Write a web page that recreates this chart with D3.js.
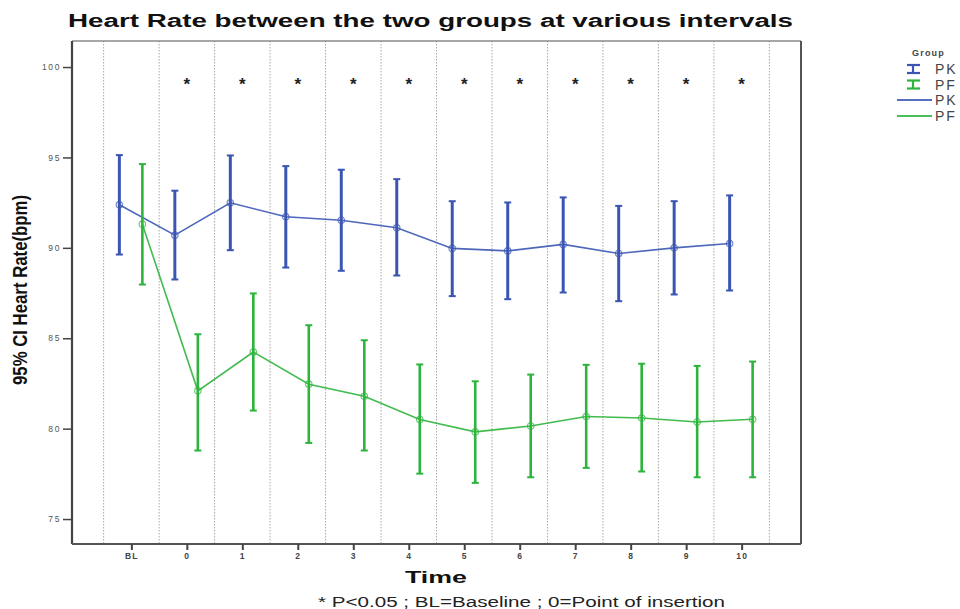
<!DOCTYPE html>
<html>
<head>
<meta charset="utf-8">
<script src="https://cdn.jsdelivr.net/npm/d3@7"></script>
<style>
  body { margin: 0; background: #fff; }
  svg { display: block; font-family: "Liberation Sans", Arial, sans-serif; }
</style>
</head>
<body>
<svg id="chart" width="960" height="609"></svg>
<script>
// data
var times = ["BL", "0", "1", "2", "3", "4", "5", "6", "7", "8", "9", "10"];
var groups = ["PK", "PF"];

var pkMean = [92.38, 90.70, 92.49, 91.72, 91.53, 91.11, 89.97, 89.83, 90.19, 89.69, 90.00, 90.24];
var pkLow  = [89.63, 88.25, 89.87, 88.91, 88.73, 88.47, 87.33, 87.16, 87.53, 87.05, 87.42, 87.64];
var pkHigh = [95.13, 93.16, 95.11, 94.52, 94.32, 93.80, 92.58, 92.51, 92.79, 92.32, 92.58, 92.90];

var pfMean = [91.31, 82.09, 84.24, 82.46, 81.79, 80.50, 79.82, 80.15, 80.67, 80.59, 80.37, 80.52];
var pfLow  = [87.97, 78.79, 81.00, 79.21, 78.79, 77.51, 77.00, 77.31, 77.83, 77.63, 77.31, 77.31];
var pfHigh = [94.63, 85.22, 87.48, 85.72, 84.89, 83.55, 82.62, 82.99, 83.53, 83.59, 83.47, 83.71];

var yTicks = [75, 80, 85, 90, 95, 100];
var starTimes = ["0", "1", "2", "3", "4", "5", "6", "7", "8", "9", "10"];
var starLevel = 99.3;

var colors = { PK: "#3a56b2", PF: "#2db43c" };

var series = [
    { name: "PK", mean: pkMean, low: pkLow, high: pkHigh },
    { name: "PF", mean: pfMean, low: pfLow, high: pfHigh }
];

var svg = d3.select("#chart");
var frame = { left: 72, right: 801, top: 41, bottom: 544 };

var x = d3.scalePoint().domain(times).range([frame.left, frame.right]).padding(1.07);
var offset = d3.scalePoint().domain(groups).range([-12, 11]);
var y = d3.scaleLinear().domain([73.62, 101.44]).range([frame.bottom, frame.top]);
var step = x.step();

// dotted separators
var seps = times.map(function (t) { return x(t) - step / 2; });
seps.push(x(times[times.length - 1]) + step / 2);
svg.append("g").selectAll("line").data(seps).join("line")
    .attr("x1", d => d).attr("x2", d => d)
    .attr("y1", frame.top).attr("y2", frame.bottom)
    .attr("stroke", "#a8a8a8")
    .attr("stroke-width", 1)
    .attr("stroke-dasharray", "1.5,1.5");

// frame
svg.append("line").attr("x1", frame.left).attr("x2", frame.right)
    .attr("y1", frame.top).attr("y2", frame.top)
    .attr("stroke", "#8a8a8a").attr("stroke-width", 1.5);
svg.append("line").attr("x1", frame.right).attr("x2", frame.right)
    .attr("y1", frame.top).attr("y2", frame.bottom)
    .attr("stroke", "#555").attr("stroke-width", 2);

// axes
var yAxis = svg.append("g")
    .attr("transform", "translate(" + frame.left + ",0)")
    .call(d3.axisLeft(y).tickValues(yTicks).tickSize(9).tickPadding(2));
var xAxis = svg.append("g")
    .attr("transform", "translate(0," + frame.bottom + ")")
    .call(d3.axisBottom(x).tickValues(times).tickSize(6).tickPadding(3));

yAxis.select(".domain").attr("d", "M0," + frame.top + "V" + frame.bottom)
    .attr("stroke", "#444").attr("stroke-width", 2.2);
xAxis.select(".domain").attr("d", "M" + frame.left + ",0H" + frame.right)
    .attr("stroke", "#555").attr("stroke-width", 2);
yAxis.selectAll(".tick line").attr("stroke", "#444").attr("stroke-width", 1.5);
xAxis.selectAll(".tick line").attr("stroke", "#444").attr("stroke-width", 2);
yAxis.selectAll(".tick text")
    .attr("font-size", 8.5).attr("fill", "#555").attr("letter-spacing", 1.6)
    .attr("font-family", "Liberation Sans, Arial, sans-serif");
xAxis.selectAll(".tick text")
    .attr("font-size", 8.5).attr("fill", "#444").attr("letter-spacing", 1.2)
    .attr("font-weight", "bold")
    .attr("font-family", "Liberation Sans, Arial, sans-serif");

// lines
var line = d3.line();
series.forEach(function (s) {
    var pts = times.map(function (t, i) { return [x(t) + offset(s.name), y(s.mean[i])]; });
    svg.append("path")
        .attr("d", line(pts))
        .attr("fill", "none")
        .attr("stroke", colors[s.name])
        .attr("stroke-width", 1.6)
        .attr("opacity", 0.9);
});

// error bars
series.forEach(function (s) {
    var g = svg.append("g").attr("stroke", colors[s.name]);
    var rows = times.map(function (t, i) {
        return { cx: x(t) + offset(s.name), lo: y(s.low[i]), hi: y(s.high[i]), m: y(s.mean[i]) };
    });
    g.selectAll("line.bar").data(rows).join("line").attr("class", "bar")
        .attr("x1", d => d.cx).attr("x2", d => d.cx)
        .attr("y1", d => d.lo).attr("y2", d => d.hi)
        .attr("stroke-width", s.name === "PK" ? 3 : 2.6);
    g.selectAll("line.capHi").data(rows).join("line").attr("class", "capHi")
        .attr("x1", d => d.cx - 3.5).attr("x2", d => d.cx + 3.5)
        .attr("y1", d => d.hi).attr("y2", d => d.hi)
        .attr("stroke-width", 2);
    g.selectAll("line.capLo").data(rows).join("line").attr("class", "capLo")
        .attr("x1", d => d.cx - 3.5).attr("x2", d => d.cx + 3.5)
        .attr("y1", d => d.lo).attr("y2", d => d.lo)
        .attr("stroke-width", 2);
    g.selectAll("circle").data(rows).join("circle")
        .attr("cx", d => d.cx).attr("cy", d => d.m).attr("r", 3.2)
        .attr("fill", "none").attr("stroke-width", 1.2).attr("opacity", 0.7);
});

// significance stars
svg.append("g").selectAll("text").data(starTimes).join("text")
    .attr("x", d => x(d))
    .attr("y", y(starLevel) + 10)
    .attr("text-anchor", "middle")
    .attr("font-size", 17)
    .attr("font-weight", "bold")
    .attr("fill", "#222")
    .text("*");

// titles
svg.append("text")
    .attr("x", 68).attr("y", 27)
    .attr("textLength", 725).attr("lengthAdjust", "spacingAndGlyphs")
    .attr("font-size", 18).attr("font-weight", "bold").attr("fill", "#111")
    .text("Heart Rate between the two groups at various intervals");

svg.append("text")
    .attr("transform", "translate(27," + 290 + ") rotate(-90)")
    .attr("text-anchor", "middle")
    .attr("textLength", 190).attr("lengthAdjust", "spacingAndGlyphs")
    .attr("font-size", 21).attr("font-weight", "bold").attr("fill", "#111")
    .text("95% CI Heart Rate(bpm)");

svg.append("text")
    .attr("x", 405).attr("y", 583)
    .attr("textLength", 62).attr("lengthAdjust", "spacingAndGlyphs")
    .attr("font-size", 17).attr("font-weight", "bold").attr("fill", "#111")
    .text("Time");

svg.append("text")
    .attr("x", 318).attr("y", 607)
    .attr("textLength", 407).attr("lengthAdjust", "spacingAndGlyphs")
    .attr("font-size", 14).attr("fill", "#222")
    .text("* P<0.05 ; BL=Baseline ; 0=Point of insertion");

// legend
var legend = svg.append("g");
legend.append("text")
    .attr("x", 912).attr("y", 56)
    .attr("font-size", 9).attr("font-weight", "bold").attr("fill", "#444")
    .attr("letter-spacing", 1.2)
    .text("Group");

groups.forEach(function (name, i) {
    var cy = 69 + i * 15.5;
    var lg = legend.append("g").attr("stroke", colors[name]).attr("stroke-width", 2.2);
    lg.append("line").attr("x1", 913).attr("x2", 913).attr("y1", cy - 4).attr("y2", cy + 4);
    lg.append("line").attr("x1", 907).attr("x2", 920).attr("y1", cy - 4).attr("y2", cy - 4);
    lg.append("line").attr("x1", 907).attr("x2", 920).attr("y1", cy + 4).attr("y2", cy + 4);
    legend.append("text").attr("x", 935).attr("y", cy + 5)
        .attr("font-size", 14).attr("fill", "#444").attr("letter-spacing", 2)
        .text(name);
});
groups.forEach(function (name, i) {
    var cy = 100 + i * 16;
    legend.append("line").attr("x1", 897).attr("x2", 932).attr("y1", cy).attr("y2", cy)
        .attr("stroke", colors[name]).attr("stroke-width", 2).attr("opacity", 0.85);
    legend.append("text").attr("x", 935).attr("y", cy + 5)
        .attr("font-size", 14).attr("fill", "#444").attr("letter-spacing", 2)
        .text(name);
});
</script>
</body>
</html>
